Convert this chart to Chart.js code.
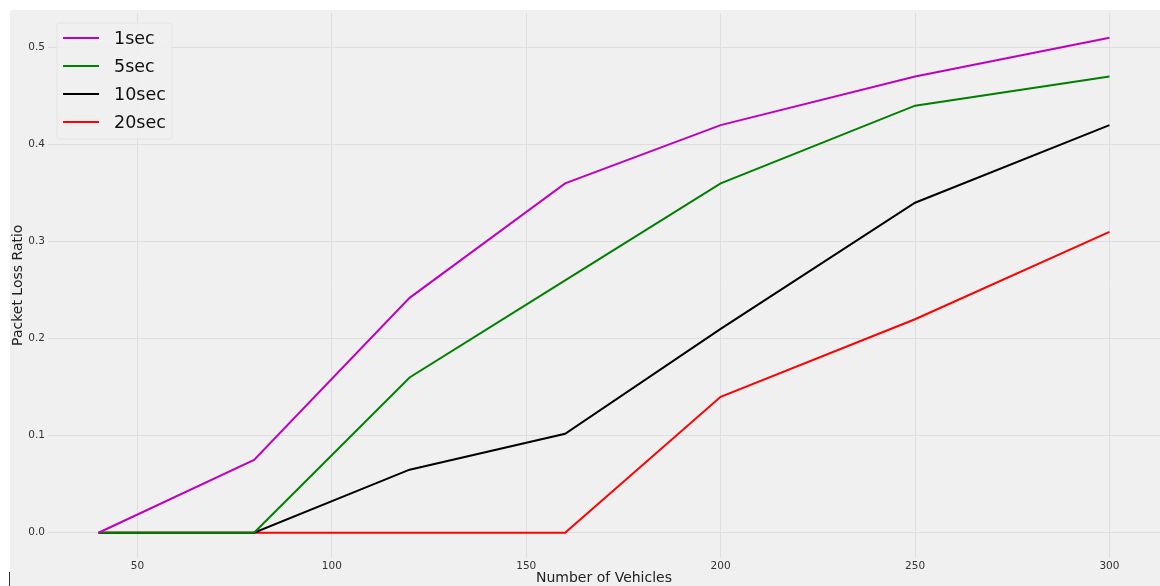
<!DOCTYPE html>
<html>
<head>
<meta charset="utf-8">
<script src="https://cdn.jsdelivr.net/npm/chart.js@4.4.1/dist/chart.umd.min.js"></script>
<style>
  html, body { margin: 0; padding: 0; background: #ffffff; }
  #frame { position: absolute; left: 10px; top: 10px; width: 1150px; height: 576px; background: #f0f0f0; }
  #frame canvas { display: block; }
  #tick { position: absolute; left: 9px; top: 572px; width: 1px; height: 14px; background: #333; }
</style>
</head>
<body>
<div id="frame"><canvas id="chart" width="1150" height="576"></canvas></div>
<div id="tick"></div>
<script>
// Number of vehicles on the road
const vehicles = [40, 80, 120, 160, 200, 250, 300];

// Packet loss ratio for each beacon interval
const loss1s  = [0, 0.075, 0.242, 0.36, 0.42, 0.47, 0.51];
const loss5s  = [0, 0, 0.16, 0.26, 0.36, 0.44, 0.47];
const loss10s = [0, 0, 0.065, 0.102, 0.21, 0.34, 0.42];
const loss20s = [0, 0, 0, 0, 0.14, 0.22, 0.31];

const seriesNames = ['1sec', '5sec', '10sec', '20sec'];
const xTicks = [50, 100, 150, 200, 250, 300];
const yTicks = [0, 0.1, 0.2, 0.3, 0.4, 0.5];

const FONT = '"DejaVu Sans", sans-serif';
const colors = ['#bf00bf', '#008000', '#000000', '#ff0000'];
const seriesValues = [loss1s, loss5s, loss10s, loss20s];

const datasets = seriesValues.map((vals, i) => ({
  label: seriesNames[i],
  data: vehicles.map((v, j) => ({ x: v, y: vals[j] })),
  borderColor: colors[i],
  backgroundColor: colors[i],
  borderWidth: 2,
  pointRadius: 0,
  tension: 0,
  fill: false
}));

// Legend box drawn inside the plot, upper left
const insideLegend = {
  id: 'insideLegend',
  afterDatasetsDraw(chart) {
    const ctx = chart.ctx;
    const a = chart.chartArea;
    const bx = a.left + 9, by = a.top + 10, bw = 115, bh = 116;
    ctx.save();
    ctx.beginPath();
    ctx.roundRect(bx, by, bw, bh, 3);
    ctx.fillStyle = 'rgba(240,240,240,0.9)';
    ctx.fill();
    ctx.strokeStyle = '#e4e4e4';
    ctx.lineWidth = 1;
    ctx.stroke();
    ctx.font = '17.5px ' + FONT;
    ctx.textBaseline = 'middle';
    ctx.textAlign = 'left';
    chart.data.datasets.forEach((ds, i) => {
      const cy = by + 15 + i * 28;
      ctx.beginPath();
      ctx.moveTo(bx + 6, cy);
      ctx.lineTo(bx + 42, cy);
      ctx.strokeStyle = ds.borderColor;
      ctx.lineWidth = 2;
      ctx.stroke();
      ctx.fillStyle = '#111111';
      ctx.fillText(ds.label, bx + 57, cy + 1);
    });
    ctx.restore();
  }
};

new Chart(document.getElementById('chart'), {
  type: 'line',
  data: { datasets },
  plugins: [insideLegend],
  options: {
    responsive: false,
    animation: false,
    devicePixelRatio: 1,
    layout: { padding: { top: 3, right: 0, left: 0, bottom: 0 } },
    plugins: {
      legend: { display: false },
      tooltip: { enabled: false }
    },
    scales: {
      x: {
        type: 'linear',
        min: 27,
        max: 313,
        border: { display: false },
        grid: { color: '#dedede', lineWidth: 1, drawTicks: false },
        ticks: {
          font: { family: FONT, size: 10.5 },
          color: '#333333',
          padding: 2,
          maxRotation: 0
        },
        afterBuildTicks(scale) { scale.ticks = xTicks.map(v => ({ value: v })); },
        afterFit(scale) {
          scale.height = 28.5;
          scale.paddingLeft = 0;
          scale.paddingRight = 0;
        },
        title: {
          display: true,
          text: 'Number of Vehicles',
          font: { family: FONT, size: 14 },
          color: '#222222',
          padding: { top: 0, bottom: -1 }
        }
      },
      y: {
        type: 'linear',
        min: -0.0255,
        max: 0.5355,
        border: { display: false },
        grid: { color: '#dedede', lineWidth: 1, drawTicks: false },
        ticks: {
          font: { family: FONT, size: 10.5 },
          color: '#333333',
          padding: 3,
          callback: v => v.toFixed(1)
        },
        afterBuildTicks(scale) { scale.ticks = yTicks.map(v => ({ value: v })); },
        afterFit(scale) {
          scale.width = 38;
          scale.paddingTop = 0;
          scale.paddingBottom = 0;
        },
        title: {
          display: true,
          text: 'Packet Loss Ratio',
          font: { family: FONT, size: 14 },
          color: '#222222',
          padding: { top: 0, bottom: 0 }
        }
      }
    }
  }
});
</script>
</body>
</html>
